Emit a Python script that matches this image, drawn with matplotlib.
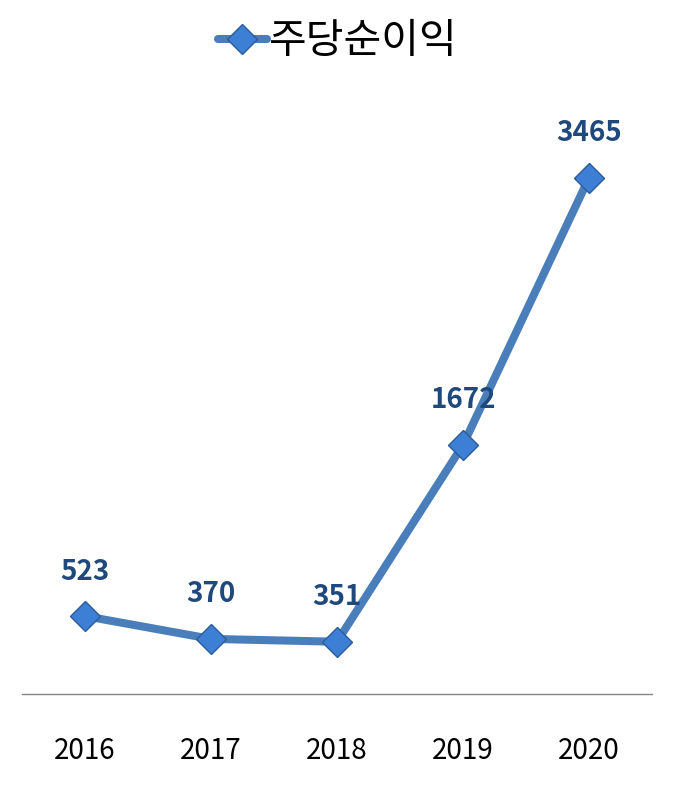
import matplotlib.pyplot as plt

plt.rcParams['font.family'] = ['Noto Sans CJK KR', 'DejaVu Sans']

years = ['2016', '2017', '2018', '2019', '2020']
eps = [523, 370, 351, 1672, 3465]
series_name = '주당순이익'

fig = plt.figure(figsize=(6.75, 7.91), dpi=100)
ax = fig.add_axes([0.0326, 0.1226, 0.9334, 0.7534])

x = list(range(len(years)))
ax.plot(x, eps, color='#4a7ebb', linewidth=5.8, solid_capstyle='round',
        marker='D', markersize=15, markerfacecolor='#3d7fd4',
        markeredgecolor='#2b5c97', markeredgewidth=1.0, label=series_name,
        zorder=3)

for xi, v in zip(x, eps):
    ax.annotate(str(v), (xi, v), xytext=(0, 32), textcoords='offset points',
                ha='center', va='center', fontsize=20, fontweight='bold',
                color='#1f497d')

ax.set_xlim(-0.5, len(years) - 0.5)
ax.set_ylim(0, 4000)
ax.set_xticks(x)
ax.set_xticklabels(years, fontsize=20)
ax.tick_params(axis='x', length=0, pad=30)
ax.set_yticks([])
for s in ['top', 'right', 'left']:
    ax.spines[s].set_visible(False)
ax.spines['bottom'].set_color('#868686')
ax.spines['bottom'].set_linewidth(1.0)

fig.legend(loc='center', bbox_to_anchor=(0.5, 0.947), frameon=False,
           fontsize=29.5, handlelength=1.2, handletextpad=0.05,
           borderaxespad=0)

fig.savefig('out.png', dpi=100)
